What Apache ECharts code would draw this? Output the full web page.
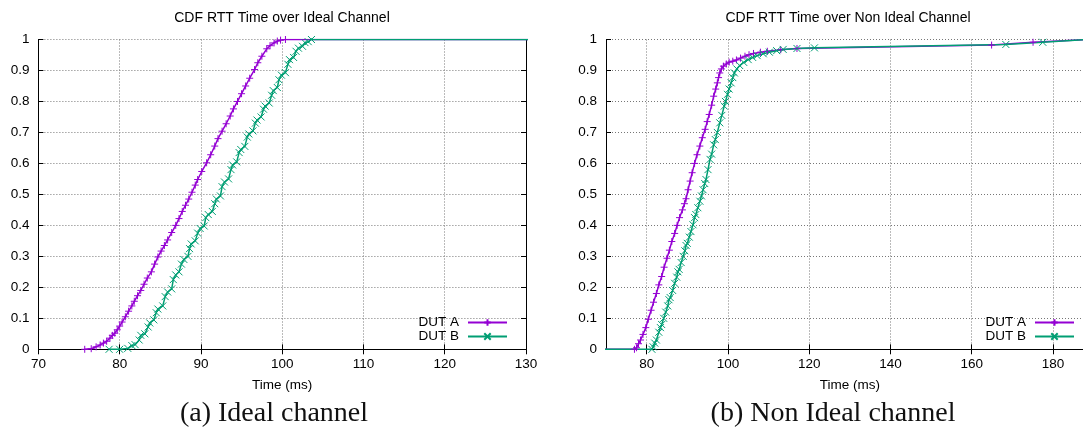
<!DOCTYPE html>
<html>
<head>
<meta charset="utf-8">
<title>CDF RTT Time</title>
<script src="https://cdn.jsdelivr.net/npm/echarts@6/dist/echarts.min.js"></script>
<style>
  html, body { margin: 0; padding: 0; background: #fff; }
  #chart { width: 1083px; height: 434px; }
</style>
</head>
<body>
<div id="chart"></div>
<script>
// RTT samples (ms) against cumulative fraction, ideal channel
const idealA = [
  [75.7, 0], [76.5, 0.002], [77.1, 0.008], [77.6, 0.014], [78.0, 0.02], [78.4, 0.026],
  [78.8, 0.036], [79.1, 0.045], [79.4, 0.052], [79.7, 0.063], [80.0, 0.075], [80.3, 0.088],
  [80.7, 0.105], [81.1, 0.123], [81.5, 0.14], [81.8, 0.155], [82.2, 0.173], [82.6, 0.19],
  [83.0, 0.21], [83.4, 0.23], [83.9, 0.25], [84.3, 0.275], [84.7, 0.298], [85.1, 0.317],
  [85.5, 0.335], [85.9, 0.353], [86.4, 0.377], [86.9, 0.4], [87.3, 0.422], [87.7, 0.445],
  [88.1, 0.465], [88.5, 0.485], [88.9, 0.507], [89.3, 0.53], [89.6, 0.548], [90.1, 0.574],
  [90.7, 0.602], [91.2, 0.628], [91.7, 0.656], [92.1, 0.68], [92.6, 0.704], [93.1, 0.728],
  [93.6, 0.753], [94.0, 0.776], [94.5, 0.8], [95.0, 0.825], [95.5, 0.85], [96.0, 0.875],
  [96.6, 0.903], [97.0, 0.925], [97.5, 0.946], [98.1, 0.97], [98.5, 0.98], [99.0, 0.989],
  [99.4, 0.995], [99.8, 0.998], [100.4, 1.0], [136, 1.0]
];
const idealB = [
  [78.7, 0], [80.0, 0], [81.0, 0.003], [81.5, 0.012], [81.9, 0.015], [82.4, 0.03],
  [82.6, 0.045], [83.1, 0.05], [83.5, 0.072], [83.7, 0.085], [84.2, 0.095], [84.5, 0.118],
  [84.7, 0.13], [85.3, 0.14], [85.6, 0.17], [85.9, 0.185], [86.4, 0.195], [86.6, 0.225],
  [86.9, 0.24], [87.3, 0.25], [87.6, 0.275], [87.9, 0.29], [88.4, 0.3], [88.6, 0.325],
  [88.8, 0.34], [89.3, 0.35], [89.6, 0.375], [89.9, 0.39], [90.4, 0.398], [90.6, 0.425],
  [90.9, 0.435], [91.4, 0.445], [91.7, 0.47], [91.9, 0.485], [92.4, 0.495], [92.6, 0.525],
  [92.9, 0.54], [93.4, 0.55], [93.7, 0.58], [93.9, 0.595], [94.4, 0.605], [94.7, 0.635],
  [94.9, 0.645], [95.4, 0.655], [95.7, 0.685], [95.9, 0.695], [96.4, 0.705], [96.7, 0.73],
  [96.9, 0.74], [97.4, 0.75], [97.7, 0.775], [97.9, 0.785], [98.4, 0.795], [98.7, 0.82],
  [98.9, 0.835], [99.4, 0.845], [99.6, 0.87], [99.9, 0.885], [100.4, 0.893], [100.7, 0.92],
  [100.9, 0.935], [101.4, 0.942], [101.7, 0.962], [102.0, 0.972], [102.5, 0.978], [102.8, 0.99],
  [103.2, 0.993], [103.6, 1.0], [136, 1.0]
];

// RTT samples (ms) against cumulative fraction, non ideal channel
const nonIdealA = [
  [68, 0], [77.0, 0], [77.5, 0.005], [78.0, 0.018], [78.5, 0.03], [79.1, 0.048], [79.8, 0.07],
  [80.4, 0.097], [81.1, 0.126], [81.7, 0.152], [82.4, 0.18], [83.0, 0.208], [83.7, 0.235],
  [84.3, 0.265], [85.0, 0.294], [85.6, 0.32], [86.2, 0.348], [86.9, 0.374], [87.5, 0.4],
  [88.1, 0.425], [88.8, 0.45], [89.3, 0.47], [89.7, 0.486], [90.2, 0.515], [90.7, 0.543],
  [91.2, 0.57], [91.8, 0.6], [92.4, 0.628], [93.1, 0.656], [93.7, 0.683], [94.4, 0.71],
  [94.9, 0.735], [95.4, 0.758], [96.0, 0.788], [96.5, 0.817], [97.0, 0.84], [97.4, 0.86],
  [97.7, 0.877], [98.0, 0.892], [98.4, 0.905], [98.9, 0.914], [99.6, 0.921], [100.3, 0.927],
  [101.2, 0.93], [102.1, 0.934], [103.1, 0.94], [104.2, 0.946], [105.2, 0.951], [106.3, 0.955],
  [108.0, 0.959], [109.7, 0.962], [113.0, 0.967], [117.0, 0.971], [164.9, 0.982],
  [175.1, 0.991], [188.5, 1.0]
];
const nonIdealB = [
  [68, 0], [81.3, 0], [81.6, 0.008], [82.0, 0.02], [82.4, 0.03], [83.0, 0.055], [83.4, 0.07],
  [83.7, 0.08], [84.2, 0.1], [84.7, 0.12], [85.2, 0.14], [85.5, 0.16], [85.8, 0.167],
  [86.4, 0.19], [86.9, 0.213], [87.4, 0.233], [87.7, 0.25], [88.0, 0.258], [88.5, 0.28],
  [89.0, 0.3], [89.4, 0.318], [89.7, 0.335], [90.0, 0.342], [90.5, 0.362], [90.9, 0.38],
  [91.4, 0.402], [91.8, 0.425], [92.1, 0.435], [92.6, 0.457], [93.1, 0.478], [93.5, 0.495],
  [93.9, 0.515], [94.3, 0.535], [94.6, 0.548], [95.1, 0.58], [95.6, 0.613], [96.0, 0.63],
  [96.5, 0.66], [96.9, 0.677], [97.4, 0.7], [98.0, 0.731], [98.5, 0.755], [99.1, 0.785],
  [99.4, 0.8], [99.9, 0.823], [100.3, 0.84], [100.8, 0.86], [101.2, 0.877], [101.6, 0.892],
  [102.2, 0.905], [102.9, 0.916], [103.9, 0.926], [105.0, 0.935], [106.1, 0.942],
  [107.2, 0.948], [108.7, 0.954], [110.2, 0.959], [112.0, 0.964], [113.6, 0.968],
  [117.0, 0.971], [121.3, 0.973], [168.4, 0.984], [177.5, 0.991], [188.5, 1.0]
];

const seriesNames = ['DUT A', 'DUT B'];
const chartTitles = ['CDF RTT Time over Ideal Channel', 'CDF RTT Time over Non Ideal Channel'];
const captions = ['(a) Ideal channel', '(b) Non Ideal channel'];
const axisName = 'Time (ms)';
const idealTicks = [70, 80, 90, 100, 110, 120, 130];
const nonIdealTicks = [80, 100, 120, 140, 160, 180];
const idealRange = [70, 130];
const nonIdealRange = [70, 190];
const cdfTicks = [0, 0.1, 0.2, 0.3, 0.4, 0.5, 0.6, 0.7, 0.8, 0.9, 1];

const PURPLE = '#9400d3';
const GREEN = '#009e73';
const SANS = '"Liberation Sans", Arial, sans-serif';
const SERIF = '"Liberation Serif", "DejaVu Serif", serif';
const FS = 13.5;

// gnuplot-style point glyphs
const PLUS = 'path://M5,0L5,10M0,5L10,5';
const CROSS = 'path://M0,0L10,10M10,0L0,10';

// the second panel runs a little past the right edge of the page
const plotTop = 39.5, plotBottom = 434 - 349.3;
const grids = [
  { left: 38.4, right: 1083 - 526, top: plotTop, bottom: plotBottom, outerBoundsMode: 'none' },
  { left: 606, right: -10.6, top: plotTop, bottom: plotBottom, outerBoundsMode: 'none' }
];

const gridLine = { show: true, lineStyle: { type: [1, 2], color: '#777', width: 1 } };
const border = { show: true, lineStyle: { color: '#000', width: 1 } };
const labelStyle = { color: '#000', fontSize: FS, fontFamily: SANS };
function innerTick(values) {
  return { show: true, inside: true, length: 5, customValues: values, lineStyle: { color: '#000' } };
}

function bottomAxis(gridIndex, range, ticks) {
  return {
    type: 'value', gridIndex, position: 'bottom',
    min: range[0], max: range[1],
    name: axisName, nameLocation: 'middle', nameGap: 29,
    nameTextStyle: labelStyle,
    axisLine: border, axisTick: innerTick(ticks), splitLine: gridLine,
    axisLabel: Object.assign({}, labelStyle, { margin: 8, customValues: ticks })
  };
}
function topAxis(gridIndex, range, ticks) {
  return {
    type: 'value', gridIndex, position: 'top',
    min: range[0], max: range[1],
    axisLine: border, axisTick: innerTick(ticks), splitLine: { show: false },
    axisLabel: { show: false }
  };
}
function leftAxis(gridIndex) {
  return {
    type: 'value', gridIndex, position: 'left', min: 0, max: 1,
    axisLine: border, axisTick: innerTick(cdfTicks), splitLine: gridLine,
    axisLabel: Object.assign({}, labelStyle, { margin: 9, customValues: cdfTicks })
  };
}
function rightAxis(gridIndex) {
  return {
    type: 'value', gridIndex, position: 'right', min: 0, max: 1,
    axisLine: border, axisTick: innerTick(cdfTicks), splitLine: { show: false },
    axisLabel: { show: false }
  };
}

function cdfSeries(name, data, axisIdx, color, glyph) {
  return {
    type: 'line', name, data,
    xAxisIndex: axisIdx, yAxisIndex: axisIdx,
    symbol: glyph, symbolSize: 7,
    lineStyle: { color, width: 1.5 },
    itemStyle: { color, borderColor: color, borderWidth: 1 },
    clip: true, z: 3
  };
}

function legendAt(rightPx) {
  return {
    orient: 'vertical', align: 'right',
    right: rightPx, top: 315.5,
    itemWidth: 39, itemHeight: 8, itemGap: 0,
    padding: 0, selectedMode: false,
    textStyle: { color: '#000', fontSize: FS, fontFamily: SANS, lineHeight: 14, padding: [0, 4, 0, 0] },
    data: seriesNames
  };
}

function caption(text, x) {
  return {
    type: 'text', x, y: 414,
    style: { text, font: '28px ' + SERIF, fill: '#111', textAlign: 'center', textVerticalAlign: 'middle' }
  };
}

const chart = echarts.init(document.getElementById('chart'), null, { renderer: 'canvas' });
chart.setOption({
  animation: false,
  backgroundColor: '#fff',
  title: [
    { text: chartTitles[0], left: 282, top: 11, textAlign: 'center', padding: 0,
      textStyle: { fontSize: 14, fontWeight: 'normal', color: '#000', fontFamily: SANS } },
    { text: chartTitles[1], left: 848, top: 11, textAlign: 'center', padding: 0,
      textStyle: { fontSize: 14, fontWeight: 'normal', color: '#000', fontFamily: SANS } }
  ],
  legend: [legendAt(1083 - 508), legendAt(1083 - 1075)],
  grid: grids,
  xAxis: [
    bottomAxis(0, idealRange, idealTicks), bottomAxis(1, nonIdealRange, nonIdealTicks),
    topAxis(0, idealRange, idealTicks), topAxis(1, nonIdealRange, nonIdealTicks)
  ],
  yAxis: [leftAxis(0), leftAxis(1), rightAxis(0), rightAxis(1)],
  series: [
    cdfSeries(seriesNames[0], idealA, 0, PURPLE, PLUS),
    cdfSeries(seriesNames[1], idealB, 0, GREEN, CROSS),
    cdfSeries(seriesNames[0], nonIdealA, 1, PURPLE, PLUS),
    cdfSeries(seriesNames[1], nonIdealB, 1, GREEN, CROSS)
  ],
  graphic: [caption(captions[0], 274), caption(captions[1], 833)]
});
</script>
</body>
</html>
